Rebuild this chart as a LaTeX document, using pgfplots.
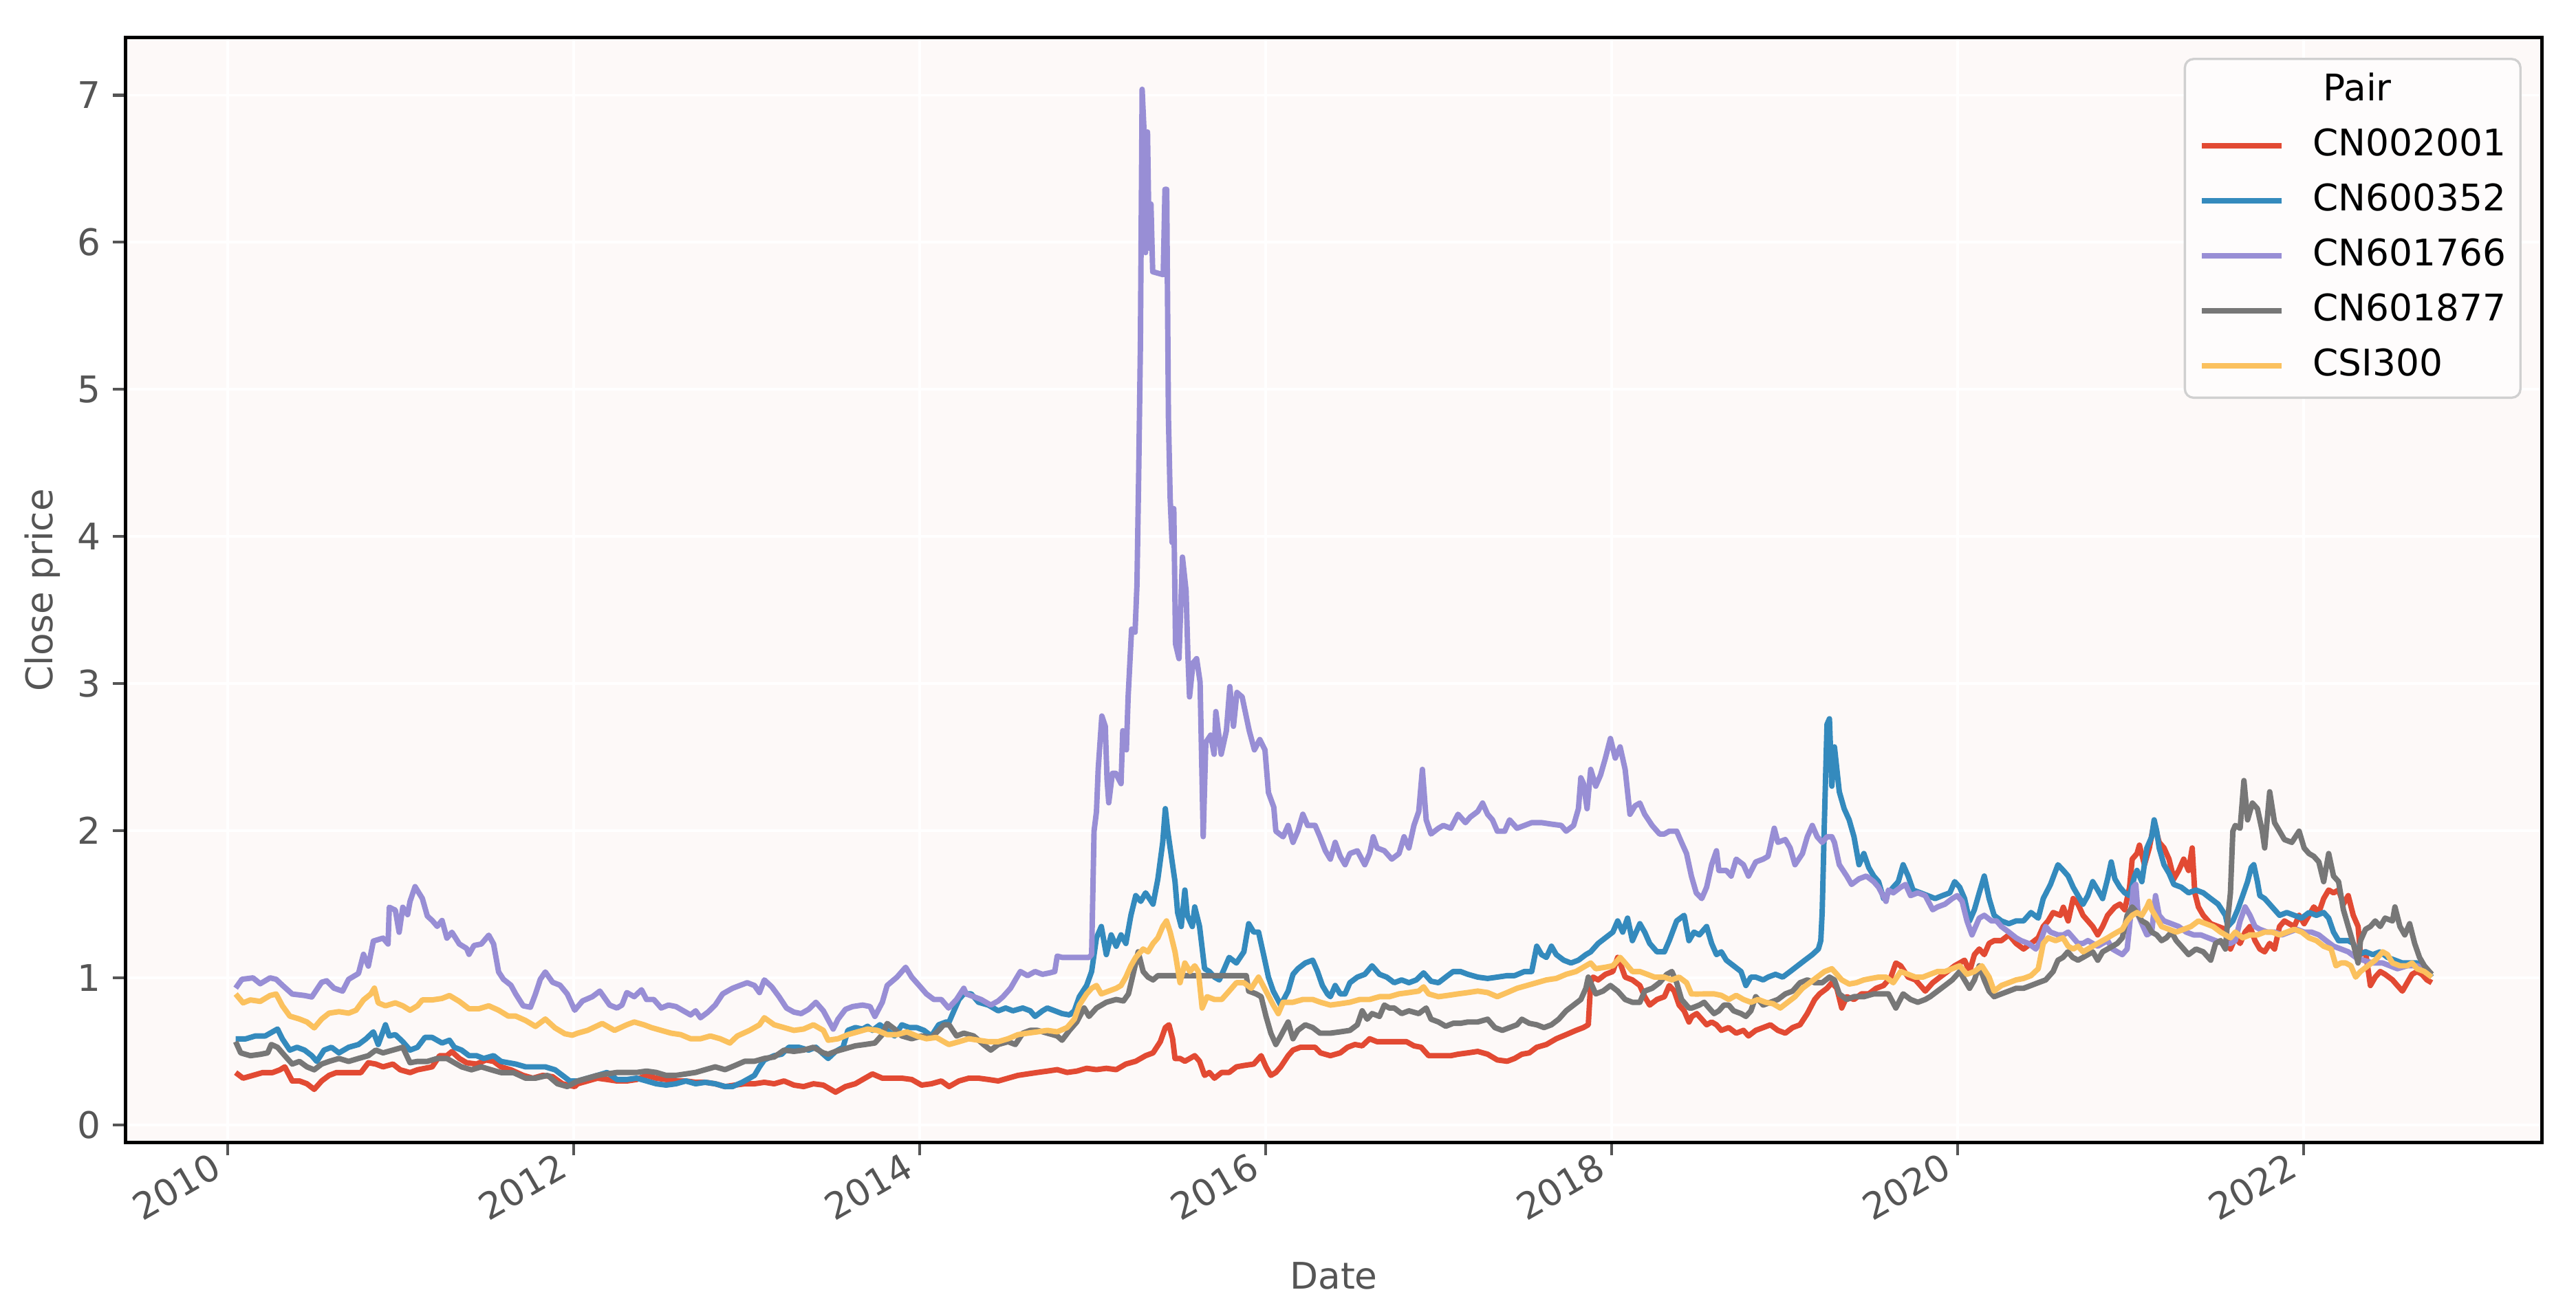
\documentclass[border=0pt]{standalone}
\usepackage{fontspec}
\setmainfont{DejaVu Sans}
\usepackage{pgfplots}
\pgfplotsset{compat=1.18}
\definecolor{cred}{HTML}{E24A33}
\definecolor{cblue}{HTML}{348ABD}
\definecolor{cpurple}{HTML}{988ED5}
\definecolor{cgray}{HTML}{777777}
\definecolor{cyellow}{HTML}{FBC15E}
\definecolor{bgpink}{HTML}{FDF9F8}
\definecolor{labgray}{HTML}{555555}
\definecolor{leggray}{HTML}{D0D0D0}
\definecolor{legfill}{HTML}{FEFCFC}
\begin{document}
\begin{tikzpicture}
\begin{axis}[
  scale only axis,
  width=842.9pt, height=385.6pt,
  xmin=2009.412, xmax=2023.377, ymin=-0.12, ymax=7.39,
  xtick={2010,2012,2014,2016,2018,2020,2022},
  ytick={0,1,2,3,4,5,6,7},
  /pgf/number format/assume math mode=true,
  x tick label style={/pgf/number format/1000 sep={}},
  tick label style={font=\fontsize{12.8}{15}\selectfont, text=labgray},
  xticklabel style={rotate=30, anchor=north east, inner sep=0pt, xshift=-4.5pt, yshift=4.5pt},
  yticklabel style={inner sep=0pt, xshift=-4pt},
  axis background/.style={fill=bgpink},
  grid=major,
  grid style={white, line width=0.9pt},
  axis line style={black, line width=1.2pt},
  tick align=outside,
  tick pos=left,
  major tick length=4.5pt,
  tick style={labgray, line width=1pt},
  xlabel={Date}, ylabel={Close price},
  every axis x label/.style={at={([yshift=-46.4pt]axis description cs:0.5,0)}, anchor=center,
     font=\fontsize{12.8}{15}\selectfont, text=labgray},
  every axis y label/.style={at={([xshift=-29pt]axis description cs:0,0.5)}, rotate=90, anchor=center,
     font=\fontsize{12.8}{15}\selectfont, text=labgray},
  legend cell align=left,
  legend image code/.code={\draw[#1, line width=1.9pt] (0pt,0pt) -- (27.8pt,0pt);},
  legend style={at={(1,1)}, anchor=north east, xshift=-7pt, yshift=-7pt,
    draw=leggray, fill=legfill, rounded corners=3pt, line width=0.8pt,
    inner xsep=5pt, inner ysep=5pt, row sep=7pt, column sep=10pt,
    font=\fontsize{12.8}{15}\selectfont,
    nodes={inner sep=0pt, text height=9.5pt, text depth=2.7pt}},
  every axis plot/.append style={line width=1.9pt, line join=round, no markers},
]
\addlegendimage{empty legend}
\addlegendentry{\hspace*{3.6pt}Pair}

\addplot[cred] table {
2010.047 0.356
2010.090 0.318
2010.147 0.337
2010.203 0.356
2010.260 0.356
2010.303 0.375
2010.331 0.395
2010.374 0.299
2010.416 0.299
2010.459 0.280
2010.501 0.242
2010.544 0.299
2010.587 0.337
2010.629 0.356
2010.672 0.356
2010.715 0.356
2010.771 0.356
2010.814 0.423
2010.857 0.414
2010.899 0.395
2010.956 0.414
2010.998 0.375
2011.055 0.356
2011.098 0.375
2011.141 0.385
2011.183 0.395
2011.226 0.471
2011.268 0.471
2011.297 0.499
2011.340 0.452
2011.382 0.423
2011.439 0.414
2011.495 0.442
2011.538 0.432
2011.581 0.395
2011.638 0.375
2011.709 0.337
2011.765 0.318
2011.822 0.337
2011.879 0.328
2011.936 0.280
2012.007 0.261
2012.024 0.280
2012.081 0.299
2012.138 0.318
2012.194 0.309
2012.251 0.299
2012.308 0.299
2012.365 0.309
2012.422 0.337
2012.478 0.318
2012.535 0.309
2012.592 0.299
2012.649 0.299
2012.706 0.290
2012.762 0.290
2012.819 0.280
2012.876 0.261
2012.933 0.271
2012.990 0.280
2013.046 0.280
2013.103 0.290
2013.160 0.280
2013.217 0.299
2013.274 0.271
2013.330 0.261
2013.387 0.280
2013.444 0.271
2013.515 0.223
2013.572 0.261
2013.629 0.280
2013.685 0.318
2013.728 0.347
2013.785 0.318
2013.842 0.318
2013.898 0.318
2013.955 0.309
2014.012 0.271
2014.069 0.280
2014.126 0.299
2014.171 0.261
2014.228 0.299
2014.285 0.318
2014.341 0.318
2014.398 0.309
2014.455 0.299
2014.512 0.318
2014.569 0.337
2014.625 0.347
2014.682 0.357
2014.739 0.366
2014.796 0.376
2014.853 0.357
2014.909 0.366
2014.966 0.385
2015.023 0.376
2015.080 0.385
2015.137 0.376
2015.193 0.414
2015.250 0.433
2015.307 0.471
2015.350 0.490
2015.392 0.566
2015.421 0.662
2015.442 0.681
2015.463 0.586
2015.477 0.452
2015.506 0.452
2015.534 0.433
2015.563 0.452
2015.591 0.471
2015.619 0.433
2015.648 0.337
2015.676 0.357
2015.705 0.318
2015.747 0.357
2015.790 0.357
2015.832 0.395
2015.875 0.404
2015.932 0.414
2015.975 0.471
2016.003 0.395
2016.031 0.337
2016.060 0.357
2016.088 0.395
2016.131 0.471
2016.159 0.509
2016.202 0.528
2016.244 0.528
2016.287 0.528
2016.318 0.490
2016.375 0.471
2016.432 0.490
2016.474 0.528
2016.517 0.547
2016.559 0.538
2016.602 0.586
2016.645 0.566
2016.687 0.566
2016.730 0.566
2016.772 0.566
2016.815 0.566
2016.858 0.538
2016.900 0.528
2016.943 0.471
2016.985 0.471
2017.028 0.471
2017.071 0.471
2017.113 0.481
2017.170 0.490
2017.227 0.500
2017.284 0.481
2017.340 0.442
2017.397 0.433
2017.440 0.452
2017.482 0.481
2017.525 0.490
2017.568 0.528
2017.624 0.547
2017.681 0.586
2017.738 0.614
2017.795 0.643
2017.837 0.662
2017.866 0.681
2017.880 0.967
2017.894 1.005
2017.923 0.986
2017.965 1.024
2018.008 1.043
2018.036 1.139
2018.050 1.101
2018.079 1.005
2018.121 0.986
2018.164 0.948
2018.192 0.872
2018.221 0.815
2018.263 0.853
2018.306 0.872
2018.334 0.948
2018.363 0.910
2018.391 0.815
2018.420 0.776
2018.448 0.700
2018.465 0.738
2018.493 0.757
2018.522 0.719
2018.550 0.681
2018.579 0.700
2018.607 0.681
2018.635 0.643
2018.678 0.662
2018.721 0.624
2018.763 0.643
2018.792 0.605
2018.834 0.643
2018.877 0.662
2018.919 0.681
2018.962 0.643
2019.005 0.624
2019.047 0.662
2019.090 0.681
2019.132 0.757
2019.175 0.853
2019.203 0.891
2019.246 0.929
2019.274 0.967
2019.303 0.929
2019.331 0.795
2019.360 0.872
2019.402 0.853
2019.445 0.891
2019.487 0.891
2019.530 0.929
2019.573 0.948
2019.615 1.005
2019.644 1.101
2019.672 1.082
2019.715 1.005
2019.757 0.986
2019.786 0.948
2019.814 0.910
2019.857 0.967
2019.899 1.005
2019.942 1.043
2019.984 1.082
2020.013 1.101
2020.041 1.120
2020.070 1.043
2020.098 1.158
2020.126 1.196
2020.155 1.158
2020.183 1.234
2020.212 1.253
2020.254 1.253
2020.297 1.292
2020.339 1.234
2020.382 1.196
2020.425 1.234
2020.467 1.272
2020.496 1.349
2020.524 1.387
2020.553 1.444
2020.595 1.425
2020.612 1.480
2020.640 1.387
2020.669 1.539
2020.697 1.501
2020.726 1.425
2020.754 1.387
2020.782 1.349
2020.811 1.292
2020.839 1.349
2020.868 1.425
2020.910 1.482
2020.939 1.501
2020.967 1.463
2020.995 1.616
2021.010 1.807
2021.038 1.845
2021.052 1.902
2021.081 1.769
2021.109 1.883
2021.137 2.055
2021.166 1.921
2021.194 1.883
2021.223 1.807
2021.251 1.673
2021.279 1.730
2021.308 1.807
2021.336 1.730
2021.357 1.883
2021.372 1.578
2021.393 1.482
2021.421 1.425
2021.464 1.368
2021.507 1.349
2021.549 1.330
2021.578 1.196
2021.606 1.272
2021.634 1.234
2021.663 1.311
2021.691 1.349
2021.720 1.253
2021.748 1.196
2021.776 1.177
2021.805 1.234
2021.833 1.196
2021.862 1.349
2021.890 1.387
2021.918 1.368
2021.947 1.349
2021.975 1.425
2022.004 1.368
2022.032 1.425
2022.060 1.482
2022.089 1.444
2022.117 1.539
2022.146 1.597
2022.174 1.578
2022.203 1.597
2022.231 1.501
2022.259 1.559
2022.288 1.425
2022.316 1.349
2022.330 1.158
2022.359 1.177
2022.387 0.948
2022.415 1.005
2022.444 1.043
2022.472 1.024
2022.515 0.986
2022.543 0.948
2022.572 0.910
2022.600 0.967
2022.628 1.024
2022.657 1.043
2022.685 1.024
2022.714 0.986
2022.742 0.967
};
\addlegendentry{CN002001}

\addplot[cblue] table {
2010.047 0.585
2010.104 0.585
2010.161 0.605
2010.218 0.605
2010.260 0.633
2010.289 0.652
2010.317 0.585
2010.360 0.509
2010.402 0.528
2010.445 0.509
2010.487 0.471
2010.516 0.432
2010.558 0.509
2010.601 0.528
2010.644 0.490
2010.700 0.528
2010.757 0.547
2010.800 0.585
2010.843 0.633
2010.871 0.547
2010.913 0.681
2010.935 0.605
2010.970 0.614
2011.013 0.566
2011.055 0.509
2011.098 0.528
2011.141 0.595
2011.183 0.595
2011.240 0.557
2011.283 0.576
2011.311 0.528
2011.353 0.509
2011.396 0.471
2011.439 0.471
2011.481 0.452
2011.538 0.471
2011.581 0.432
2011.623 0.423
2011.666 0.414
2011.723 0.395
2011.780 0.395
2011.837 0.395
2011.893 0.375
2011.936 0.337
2011.979 0.299
2012.024 0.299
2012.081 0.318
2012.138 0.337
2012.194 0.357
2012.251 0.309
2012.308 0.309
2012.365 0.318
2012.422 0.299
2012.478 0.280
2012.535 0.271
2012.592 0.280
2012.649 0.299
2012.706 0.280
2012.762 0.290
2012.819 0.280
2012.876 0.261
2012.919 0.261
2012.975 0.290
2013.018 0.318
2013.046 0.337
2013.075 0.395
2013.103 0.442
2013.160 0.471
2013.203 0.481
2013.245 0.528
2013.302 0.528
2013.359 0.509
2013.401 0.528
2013.444 0.481
2013.472 0.452
2013.515 0.500
2013.558 0.528
2013.586 0.643
2013.629 0.662
2013.671 0.652
2013.700 0.671
2013.728 0.643
2013.771 0.681
2013.813 0.643
2013.856 0.605
2013.898 0.681
2013.941 0.662
2013.984 0.662
2014.026 0.643
2014.069 0.605
2014.111 0.681
2014.154 0.700
2014.171 0.700
2014.199 0.776
2014.228 0.853
2014.256 0.891
2014.299 0.891
2014.341 0.834
2014.398 0.815
2014.455 0.776
2014.498 0.795
2014.540 0.776
2014.597 0.795
2014.640 0.776
2014.668 0.738
2014.711 0.776
2014.739 0.795
2014.782 0.776
2014.824 0.757
2014.867 0.748
2014.895 0.776
2014.924 0.872
2014.966 0.948
2014.995 1.043
2015.023 1.272
2015.051 1.349
2015.080 1.158
2015.108 1.292
2015.137 1.215
2015.165 1.292
2015.193 1.234
2015.222 1.425
2015.250 1.559
2015.279 1.520
2015.307 1.578
2015.350 1.501
2015.378 1.673
2015.406 1.921
2015.421 2.150
2015.435 1.997
2015.449 1.883
2015.477 1.654
2015.492 1.444
2015.513 1.349
2015.534 1.597
2015.548 1.425
2015.577 1.349
2015.591 1.482
2015.619 1.349
2015.648 1.062
2015.676 1.043
2015.705 1.005
2015.733 0.986
2015.762 1.062
2015.790 1.139
2015.832 1.101
2015.875 1.177
2015.903 1.368
2015.932 1.311
2015.960 1.311
2015.989 1.158
2016.017 1.005
2016.045 0.910
2016.088 0.815
2016.131 0.910
2016.159 1.024
2016.187 1.062
2016.230 1.101
2016.273 1.120
2016.301 1.043
2016.329 0.948
2016.358 0.891
2016.375 0.872
2016.403 0.948
2016.432 0.891
2016.460 0.891
2016.488 0.967
2016.531 1.005
2016.574 1.024
2016.616 1.082
2016.659 1.024
2016.701 1.005
2016.744 0.967
2016.787 0.986
2016.829 0.967
2016.872 0.986
2016.914 1.034
2016.957 0.977
2017.000 0.967
2017.042 1.005
2017.085 1.043
2017.127 1.043
2017.170 1.024
2017.227 1.005
2017.284 0.996
2017.340 1.005
2017.397 1.015
2017.440 1.015
2017.497 1.043
2017.539 1.043
2017.568 1.215
2017.596 1.158
2017.624 1.139
2017.653 1.215
2017.681 1.158
2017.724 1.120
2017.766 1.101
2017.809 1.120
2017.852 1.158
2017.880 1.177
2017.923 1.234
2017.965 1.272
2018.008 1.311
2018.036 1.387
2018.065 1.311
2018.093 1.406
2018.121 1.253
2018.164 1.368
2018.192 1.311
2018.221 1.234
2018.263 1.177
2018.306 1.177
2018.334 1.253
2018.377 1.387
2018.420 1.425
2018.448 1.253
2018.477 1.311
2018.508 1.292
2018.550 1.349
2018.579 1.234
2018.607 1.158
2018.635 1.177
2018.664 1.120
2018.706 1.082
2018.749 1.043
2018.777 0.948
2018.806 1.005
2018.834 1.005
2018.877 0.986
2018.905 1.005
2018.948 1.024
2018.990 1.005
2019.033 1.043
2019.076 1.082
2019.118 1.120
2019.161 1.158
2019.196 1.196
2019.210 1.253
2019.218 1.444
2019.232 2.112
2019.246 2.723
2019.260 2.761
2019.274 2.303
2019.289 2.570
2019.317 2.265
2019.345 2.150
2019.374 2.074
2019.402 1.959
2019.431 1.769
2019.459 1.845
2019.487 1.750
2019.516 1.692
2019.544 1.654
2019.573 1.539
2019.601 1.578
2019.629 1.616
2019.658 1.654
2019.686 1.769
2019.715 1.692
2019.743 1.597
2019.786 1.578
2019.828 1.559
2019.871 1.539
2019.913 1.559
2019.956 1.578
2019.984 1.654
2020.013 1.616
2020.041 1.539
2020.070 1.387
2020.098 1.463
2020.126 1.578
2020.155 1.692
2020.183 1.539
2020.212 1.425
2020.254 1.387
2020.297 1.368
2020.339 1.387
2020.382 1.387
2020.425 1.444
2020.467 1.406
2020.496 1.539
2020.538 1.635
2020.581 1.769
2020.612 1.730
2020.640 1.692
2020.669 1.616
2020.697 1.559
2020.726 1.501
2020.754 1.559
2020.782 1.654
2020.811 1.597
2020.839 1.539
2020.868 1.673
2020.889 1.788
2020.910 1.673
2020.939 1.616
2020.967 1.578
2020.995 1.559
2021.024 1.692
2021.038 1.730
2021.066 1.654
2021.095 1.883
2021.123 1.959
2021.137 2.074
2021.152 1.997
2021.166 1.883
2021.194 1.769
2021.223 1.711
2021.251 1.635
2021.294 1.616
2021.336 1.578
2021.379 1.597
2021.421 1.578
2021.464 1.539
2021.507 1.501
2021.549 1.425
2021.563 1.349
2021.592 1.387
2021.620 1.463
2021.649 1.559
2021.677 1.654
2021.698 1.750
2021.713 1.769
2021.734 1.654
2021.748 1.559
2021.776 1.539
2021.819 1.482
2021.862 1.425
2021.904 1.444
2021.947 1.425
2021.990 1.406
2022.032 1.444
2022.075 1.425
2022.117 1.444
2022.146 1.406
2022.174 1.311
2022.203 1.253
2022.231 1.253
2022.259 1.253
2022.288 1.234
2022.316 1.158
2022.359 1.177
2022.401 1.158
2022.444 1.177
2022.486 1.139
2022.529 1.120
2022.572 1.101
2022.614 1.101
2022.657 1.101
2022.699 1.062
2022.742 1.005
};
\addlegendentry{CN600352}

\addplot[cpurple] table {
2010.047 0.93
2010.083 0.99
2010.147 1.00
2010.189 0.96
2010.246 1.00
2010.281 0.99
2010.317 0.95
2010.374 0.89
2010.445 0.88
2010.487 0.87
2010.544 0.97
2010.573 0.98
2010.615 0.93
2010.665 0.91
2010.700 0.99
2010.757 1.03
2010.786 1.16
2010.814 1.08
2010.843 1.25
2010.899 1.27
2010.928 1.23
2010.935 1.48
2010.970 1.46
2010.992 1.31
2011.013 1.48
2011.041 1.43
2011.055 1.52
2011.084 1.62
2011.126 1.54
2011.155 1.42
2011.183 1.39
2011.212 1.35
2011.240 1.39
2011.268 1.27
2011.297 1.31
2011.340 1.23
2011.382 1.20
2011.396 1.16
2011.425 1.22
2011.467 1.23
2011.510 1.29
2011.538 1.23
2011.567 1.04
2011.595 0.99
2011.638 0.95
2011.666 0.89
2011.709 0.81
2011.751 0.80
2011.780 0.89
2011.808 0.99
2011.837 1.04
2011.879 0.97
2011.922 0.95
2011.964 0.89
2012.007 0.78
2012.052 0.843
2012.109 0.872
2012.152 0.910
2012.209 0.815
2012.251 0.795
2012.280 0.815
2012.308 0.900
2012.351 0.872
2012.393 0.919
2012.422 0.853
2012.464 0.853
2012.507 0.795
2012.549 0.815
2012.592 0.805
2012.635 0.776
2012.677 0.748
2012.706 0.776
2012.734 0.729
2012.777 0.767
2012.819 0.815
2012.862 0.891
2012.919 0.929
2012.961 0.948
2013.004 0.967
2013.046 0.948
2013.075 0.900
2013.103 0.986
2013.146 0.939
2013.188 0.872
2013.231 0.795
2013.274 0.767
2013.316 0.757
2013.359 0.786
2013.401 0.834
2013.444 0.776
2013.501 0.652
2013.529 0.719
2013.572 0.786
2013.614 0.805
2013.671 0.815
2013.714 0.805
2013.742 0.738
2013.785 0.834
2013.813 0.948
2013.870 1.005
2013.920 1.072
2013.955 1.005
2013.998 0.948
2014.040 0.891
2014.083 0.853
2014.126 0.853
2014.168 0.795
2014.214 0.853
2014.256 0.929
2014.270 0.891
2014.313 0.872
2014.356 0.853
2014.412 0.815
2014.455 0.843
2014.483 0.872
2014.526 0.929
2014.554 0.986
2014.583 1.043
2014.625 1.015
2014.668 1.043
2014.711 1.024
2014.753 1.034
2014.782 1.043
2014.796 1.148
2014.824 1.139
2014.980 1.139
2014.995 1.158
2015.009 1.997
2015.023 2.13
2015.033 2.42
2015.054 2.78
2015.074 2.71
2015.084 2.35
2015.094 2.19
2015.115 2.39
2015.135 2.39
2015.165 2.32
2015.175 2.68
2015.196 2.55
2015.206 2.91
2015.226 3.37
2015.246 3.35
2015.257 3.67
2015.267 4.42
2015.277 5.31
2015.287 7.04
2015.297 6.78
2015.307 5.93
2015.318 6.75
2015.328 5.96
2015.338 6.26
2015.348 5.80
2015.409 5.78
2015.419 6.36
2015.429 6.36
2015.439 4.81
2015.449 4.26
2015.460 3.96
2015.470 4.19
2015.480 3.27
2015.500 3.17
2015.520 3.86
2015.541 3.63
2015.551 3.21
2015.561 2.91
2015.581 3.14
2015.602 3.17
2015.622 3.01
2015.640 1.96
2015.655 2.60
2015.683 2.65
2015.703 2.52
2015.713 2.81
2015.744 2.52
2015.774 2.68
2015.794 2.98
2015.815 2.71
2015.835 2.94
2015.865 2.91
2015.906 2.68
2015.936 2.55
2015.967 2.62
2015.997 2.55
2016.017 2.26
2016.048 2.16
2016.060 1.997
2016.102 1.959
2016.131 2.036
2016.159 1.921
2016.187 1.997
2016.216 2.112
2016.244 2.036
2016.287 2.036
2016.315 1.959
2016.346 1.864
2016.375 1.807
2016.403 1.921
2016.432 1.826
2016.460 1.769
2016.488 1.845
2016.531 1.864
2016.574 1.769
2016.602 1.845
2016.623 1.959
2016.645 1.883
2016.687 1.864
2016.730 1.807
2016.772 1.845
2016.801 1.959
2016.829 1.883
2016.858 2.036
2016.886 2.131
2016.907 2.417
2016.929 2.074
2016.957 1.978
2017.000 2.017
2017.028 2.036
2017.071 2.017
2017.113 2.112
2017.156 2.055
2017.184 2.093
2017.227 2.131
2017.255 2.188
2017.284 2.112
2017.312 2.074
2017.340 1.997
2017.383 1.997
2017.411 2.074
2017.454 2.017
2017.497 2.036
2017.539 2.055
2017.596 2.055
2017.653 2.045
2017.710 2.036
2017.738 1.997
2017.781 2.036
2017.809 2.150
2017.823 2.360
2017.838 2.322
2017.859 2.150
2017.880 2.417
2017.909 2.303
2017.937 2.379
2017.965 2.494
2017.994 2.627
2018.022 2.494
2018.050 2.570
2018.079 2.417
2018.107 2.112
2018.136 2.169
2018.164 2.188
2018.192 2.112
2018.235 2.036
2018.278 1.978
2018.306 1.978
2018.334 1.997
2018.377 1.997
2018.405 1.921
2018.434 1.845
2018.462 1.692
2018.490 1.578
2018.522 1.539
2018.550 1.616
2018.579 1.769
2018.607 1.864
2018.621 1.730
2018.664 1.730
2018.692 1.692
2018.721 1.807
2018.763 1.769
2018.792 1.692
2018.834 1.788
2018.877 1.807
2018.905 1.826
2018.941 2.017
2018.962 1.921
2019.005 1.940
2019.033 1.883
2019.061 1.769
2019.104 1.845
2019.132 1.959
2019.161 2.036
2019.189 1.959
2019.218 1.921
2019.246 1.959
2019.274 1.959
2019.289 1.921
2019.317 1.769
2019.360 1.692
2019.388 1.635
2019.431 1.673
2019.473 1.692
2019.516 1.654
2019.544 1.616
2019.587 1.520
2019.601 1.597
2019.629 1.578
2019.672 1.616
2019.700 1.635
2019.729 1.559
2019.771 1.578
2019.814 1.559
2019.857 1.463
2019.885 1.482
2019.928 1.501
2019.970 1.539
2019.999 1.559
2020.027 1.520
2020.055 1.387
2020.084 1.292
2020.126 1.406
2020.155 1.425
2020.197 1.387
2020.226 1.387
2020.254 1.349
2020.297 1.311
2020.339 1.272
2020.368 1.253
2020.410 1.234
2020.453 1.196
2020.481 1.253
2020.510 1.349
2020.538 1.311
2020.581 1.292
2020.612 1.292
2020.640 1.311
2020.669 1.272
2020.697 1.234
2020.726 1.234
2020.754 1.253
2020.782 1.234
2020.811 1.215
2020.839 1.234
2020.868 1.253
2020.896 1.196
2020.924 1.177
2020.953 1.158
2020.981 1.196
2021.003 1.444
2021.017 1.616
2021.031 1.635
2021.045 1.425
2021.066 1.368
2021.095 1.292
2021.123 1.311
2021.145 1.559
2021.166 1.425
2021.194 1.387
2021.237 1.368
2021.279 1.349
2021.322 1.311
2021.365 1.292
2021.407 1.292
2021.450 1.272
2021.492 1.253
2021.535 1.234
2021.578 1.234
2021.606 1.253
2021.634 1.387
2021.663 1.482
2021.691 1.425
2021.720 1.349
2021.748 1.330
2021.791 1.311
2021.833 1.311
2021.876 1.292
2021.918 1.311
2021.961 1.330
2022.004 1.311
2022.046 1.311
2022.089 1.292
2022.131 1.253
2022.174 1.215
2022.217 1.196
2022.259 1.177
2022.302 1.139
2022.345 1.120
2022.401 1.101
2022.458 1.101
2022.500 1.082
2022.543 1.062
2022.600 1.082
2022.657 1.082
2022.699 1.062
2022.742 1.024
};
\addlegendentry{CN601766}

\addplot[cgray] table {
2010.047 0.566
2010.076 0.490
2010.132 0.471
2010.189 0.480
2010.232 0.490
2010.253 0.547
2010.289 0.528
2010.331 0.471
2010.374 0.414
2010.416 0.432
2010.459 0.395
2010.501 0.375
2010.544 0.414
2010.587 0.432
2010.644 0.452
2010.700 0.432
2010.757 0.452
2010.814 0.471
2010.857 0.509
2010.899 0.490
2010.956 0.509
2011.013 0.528
2011.055 0.423
2011.098 0.432
2011.155 0.432
2011.212 0.452
2011.268 0.452
2011.311 0.423
2011.353 0.395
2011.410 0.375
2011.467 0.395
2011.524 0.375
2011.581 0.356
2011.652 0.356
2011.723 0.318
2011.780 0.318
2011.851 0.337
2011.907 0.280
2011.964 0.261
2012.024 0.299
2012.081 0.318
2012.138 0.337
2012.194 0.347
2012.251 0.357
2012.308 0.357
2012.365 0.357
2012.422 0.366
2012.478 0.357
2012.535 0.337
2012.592 0.337
2012.649 0.347
2012.706 0.357
2012.762 0.376
2012.819 0.395
2012.876 0.376
2012.933 0.404
2012.990 0.433
2013.046 0.433
2013.103 0.452
2013.160 0.462
2013.217 0.509
2013.274 0.500
2013.330 0.509
2013.387 0.528
2013.444 0.490
2013.472 0.481
2013.515 0.500
2013.572 0.519
2013.629 0.538
2013.685 0.547
2013.742 0.557
2013.785 0.614
2013.813 0.690
2013.856 0.652
2013.898 0.605
2013.955 0.586
2014.012 0.605
2014.069 0.595
2014.111 0.643
2014.140 0.681
2014.171 0.681
2014.214 0.605
2014.256 0.624
2014.313 0.605
2014.370 0.547
2014.412 0.509
2014.455 0.547
2014.512 0.566
2014.554 0.547
2014.597 0.624
2014.640 0.643
2014.682 0.643
2014.739 0.624
2014.796 0.605
2014.824 0.576
2014.867 0.643
2014.909 0.700
2014.952 0.795
2014.980 0.738
2015.023 0.795
2015.080 0.834
2015.137 0.853
2015.179 0.843
2015.208 0.891
2015.250 1.101
2015.264 1.177
2015.293 1.043
2015.321 1.005
2015.350 0.986
2015.378 1.015
2015.889 1.015
2015.903 0.910
2015.946 0.891
2015.975 0.872
2016.003 0.738
2016.031 0.624
2016.060 0.547
2016.088 0.605
2016.131 0.700
2016.159 0.586
2016.187 0.643
2016.230 0.681
2016.273 0.662
2016.315 0.624
2016.375 0.624
2016.432 0.633
2016.488 0.643
2016.531 0.681
2016.559 0.776
2016.588 0.719
2016.616 0.757
2016.659 0.738
2016.687 0.815
2016.716 0.795
2016.744 0.795
2016.787 0.757
2016.829 0.776
2016.886 0.757
2016.929 0.795
2016.957 0.719
2017.000 0.700
2017.042 0.671
2017.085 0.691
2017.127 0.691
2017.170 0.700
2017.227 0.700
2017.284 0.719
2017.326 0.662
2017.369 0.643
2017.411 0.662
2017.454 0.681
2017.482 0.719
2017.525 0.691
2017.568 0.681
2017.610 0.662
2017.653 0.681
2017.695 0.719
2017.738 0.776
2017.781 0.815
2017.823 0.853
2017.852 0.929
2017.866 1.005
2017.880 0.967
2017.909 0.891
2017.951 0.910
2017.994 0.948
2018.036 0.910
2018.079 0.853
2018.121 0.834
2018.164 0.834
2018.192 0.910
2018.235 0.929
2018.278 0.967
2018.320 1.024
2018.349 1.043
2018.377 0.967
2018.405 0.853
2018.448 0.795
2018.465 0.795
2018.508 0.815
2018.536 0.834
2018.564 0.795
2018.593 0.757
2018.621 0.776
2018.650 0.815
2018.678 0.815
2018.706 0.776
2018.749 0.757
2018.777 0.738
2018.806 0.776
2018.834 0.872
2018.877 0.815
2018.919 0.834
2018.962 0.853
2019.005 0.891
2019.047 0.910
2019.090 0.967
2019.132 0.986
2019.175 0.967
2019.218 0.967
2019.260 1.005
2019.289 0.986
2019.317 0.891
2019.360 0.853
2019.402 0.872
2019.459 0.872
2019.516 0.891
2019.558 0.891
2019.601 0.891
2019.644 0.795
2019.686 0.891
2019.729 0.853
2019.771 0.834
2019.814 0.853
2019.842 0.872
2019.885 0.910
2019.928 0.948
2019.970 0.986
2020.013 1.043
2020.041 0.986
2020.070 0.929
2020.098 0.986
2020.126 1.082
2020.155 0.986
2020.183 0.910
2020.212 0.872
2020.254 0.891
2020.297 0.910
2020.339 0.929
2020.382 0.929
2020.425 0.948
2020.467 0.967
2020.510 0.986
2020.553 1.043
2020.581 1.120
2020.610 1.139
2020.638 1.177
2020.666 1.139
2020.697 1.120
2020.726 1.139
2020.754 1.158
2020.782 1.177
2020.811 1.120
2020.839 1.177
2020.868 1.196
2020.896 1.215
2020.924 1.234
2020.953 1.272
2020.981 1.425
2021.010 1.482
2021.038 1.444
2021.066 1.387
2021.095 1.368
2021.123 1.311
2021.152 1.292
2021.180 1.253
2021.208 1.272
2021.237 1.311
2021.265 1.253
2021.294 1.215
2021.336 1.158
2021.379 1.196
2021.421 1.177
2021.464 1.120
2021.492 1.234
2021.521 1.253
2021.549 1.196
2021.563 1.406
2021.578 1.578
2021.592 1.997
2021.606 2.036
2021.634 2.017
2021.656 2.341
2021.677 2.074
2021.705 2.188
2021.734 2.150
2021.762 1.997
2021.776 1.883
2021.805 2.265
2021.833 2.055
2021.862 1.997
2021.890 1.940
2021.933 1.921
2021.975 1.997
2022.004 1.883
2022.032 1.845
2022.060 1.826
2022.089 1.788
2022.117 1.654
2022.146 1.845
2022.174 1.692
2022.203 1.654
2022.231 1.463
2022.259 1.349
2022.288 1.234
2022.316 1.101
2022.330 1.253
2022.359 1.330
2022.387 1.349
2022.415 1.387
2022.444 1.349
2022.472 1.406
2022.515 1.387
2022.529 1.482
2022.558 1.349
2022.586 1.292
2022.614 1.368
2022.643 1.234
2022.671 1.139
2022.699 1.082
2022.742 1.024
};
\addlegendentry{CN601877}

\addplot[cyellow] table {
2010.047 0.89
2010.090 0.83
2010.132 0.85
2010.189 0.84
2010.246 0.88
2010.281 0.89
2010.317 0.81
2010.360 0.74
2010.416 0.72
2010.459 0.70
2010.501 0.66
2010.544 0.72
2010.587 0.76
2010.644 0.77
2010.700 0.76
2010.743 0.78
2010.786 0.85
2010.828 0.89
2010.849 0.93
2010.871 0.83
2010.913 0.81
2010.970 0.83
2011.013 0.81
2011.055 0.78
2011.098 0.81
2011.126 0.85
2011.183 0.85
2011.240 0.86
2011.283 0.88
2011.340 0.84
2011.396 0.79
2011.453 0.79
2011.510 0.81
2011.567 0.78
2011.623 0.74
2011.666 0.74
2011.723 0.71
2011.780 0.67
2011.837 0.72
2011.893 0.66
2011.950 0.62
2011.993 0.61
2012.024 0.624
2012.081 0.643
2012.166 0.690
2012.237 0.643
2012.308 0.681
2012.351 0.700
2012.407 0.681
2012.450 0.662
2012.507 0.643
2012.564 0.624
2012.620 0.614
2012.677 0.586
2012.734 0.586
2012.791 0.605
2012.848 0.586
2012.904 0.557
2012.947 0.605
2013.018 0.643
2013.075 0.681
2013.103 0.729
2013.160 0.681
2013.217 0.662
2013.274 0.643
2013.330 0.652
2013.387 0.681
2013.444 0.643
2013.472 0.576
2013.529 0.586
2013.586 0.614
2013.643 0.633
2013.700 0.652
2013.756 0.643
2013.813 0.614
2013.870 0.614
2013.927 0.633
2013.984 0.605
2014.040 0.586
2014.097 0.595
2014.154 0.557
2014.171 0.547
2014.228 0.566
2014.285 0.586
2014.341 0.576
2014.398 0.566
2014.455 0.566
2014.512 0.586
2014.569 0.614
2014.625 0.624
2014.682 0.633
2014.739 0.643
2014.796 0.633
2014.853 0.662
2014.895 0.719
2014.924 0.815
2014.966 0.891
2014.995 0.929
2015.023 0.948
2015.051 0.891
2015.094 0.910
2015.137 0.929
2015.165 0.948
2015.193 1.005
2015.222 1.082
2015.250 1.139
2015.293 1.196
2015.321 1.177
2015.350 1.234
2015.378 1.272
2015.406 1.349
2015.428 1.387
2015.449 1.311
2015.477 1.177
2015.506 0.967
2015.534 1.101
2015.563 1.043
2015.591 1.082
2015.612 1.043
2015.634 0.795
2015.662 0.872
2015.705 0.853
2015.747 0.853
2015.790 0.910
2015.832 0.967
2015.875 0.967
2015.918 0.929
2015.960 1.005
2016.003 0.910
2016.045 0.815
2016.074 0.757
2016.102 0.834
2016.159 0.834
2016.216 0.853
2016.273 0.853
2016.318 0.834
2016.375 0.815
2016.432 0.824
2016.488 0.834
2016.545 0.853
2016.602 0.853
2016.659 0.872
2016.716 0.872
2016.772 0.891
2016.829 0.900
2016.886 0.910
2016.914 0.939
2016.943 0.891
2017.000 0.872
2017.056 0.881
2017.113 0.891
2017.170 0.900
2017.227 0.910
2017.284 0.900
2017.340 0.872
2017.397 0.900
2017.454 0.929
2017.511 0.948
2017.568 0.967
2017.624 0.986
2017.681 0.996
2017.738 1.024
2017.795 1.043
2017.852 1.082
2017.880 1.101
2017.909 1.062
2017.965 1.072
2018.008 1.082
2018.050 1.139
2018.079 1.101
2018.121 1.043
2018.164 1.043
2018.207 1.024
2018.249 1.005
2018.306 1.005
2018.348 0.986
2018.391 1.005
2018.434 0.967
2018.462 0.891
2018.490 0.890
2018.550 0.891
2018.593 0.891
2018.635 0.881
2018.678 0.853
2018.721 0.881
2018.763 0.853
2018.806 0.834
2018.848 0.853
2018.891 0.834
2018.934 0.824
2018.976 0.795
2019.019 0.834
2019.061 0.872
2019.104 0.929
2019.147 0.967
2019.189 1.005
2019.232 1.043
2019.274 1.062
2019.303 1.024
2019.331 0.986
2019.374 0.958
2019.416 0.967
2019.459 0.986
2019.502 0.996
2019.544 1.005
2019.587 1.005
2019.629 0.967
2019.672 1.043
2019.715 1.024
2019.757 1.005
2019.800 1.005
2019.842 1.024
2019.885 1.043
2019.928 1.043
2019.970 1.062
2020.013 1.082
2020.055 1.024
2020.098 1.043
2020.141 1.082
2020.183 1.005
2020.212 0.910
2020.254 0.948
2020.297 0.967
2020.339 0.986
2020.382 0.996
2020.425 1.015
2020.467 1.062
2020.496 1.234
2020.524 1.272
2020.567 1.253
2020.610 1.272
2020.640 1.215
2020.669 1.196
2020.697 1.215
2020.726 1.177
2020.754 1.196
2020.782 1.215
2020.811 1.234
2020.839 1.253
2020.868 1.272
2020.896 1.292
2020.924 1.311
2020.953 1.330
2020.981 1.387
2021.010 1.425
2021.038 1.444
2021.066 1.425
2021.095 1.482
2021.109 1.520
2021.123 1.463
2021.152 1.406
2021.180 1.349
2021.223 1.330
2021.265 1.311
2021.308 1.330
2021.350 1.349
2021.393 1.387
2021.436 1.368
2021.478 1.349
2021.521 1.311
2021.549 1.292
2021.578 1.272
2021.606 1.311
2021.649 1.272
2021.691 1.292
2021.734 1.292
2021.776 1.311
2021.819 1.311
2021.862 1.292
2021.904 1.311
2021.947 1.330
2021.990 1.311
2022.032 1.272
2022.075 1.253
2022.117 1.215
2022.160 1.196
2022.188 1.082
2022.217 1.101
2022.245 1.101
2022.274 1.082
2022.302 1.005
2022.330 1.043
2022.373 1.082
2022.415 1.120
2022.458 1.177
2022.486 1.158
2022.515 1.101
2022.558 1.082
2022.600 1.082
2022.628 1.101
2022.657 1.062
2022.699 1.043
2022.742 1.005
};
\addlegendentry{CSI300}
\end{axis}
\pgfresetboundingbox
\path[use as bounding box] (-43.9pt,-58.9pt) rectangle (854.9pt,398.8pt);
\end{tikzpicture}
\end{document}
